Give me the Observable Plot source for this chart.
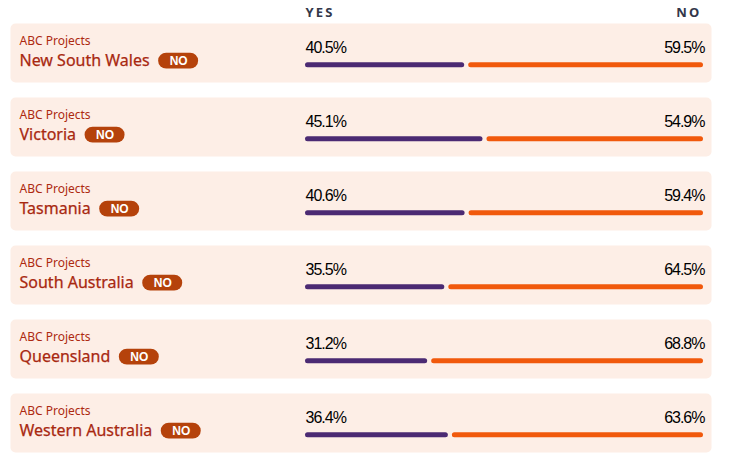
<!DOCTYPE html>
<html><head><meta charset="utf-8">
<script src="https://cdn.jsdelivr.net/npm/d3@7"></script>
<script src="https://cdn.jsdelivr.net/npm/@observablehq/plot@0.6"></script>
<style>
body{margin:0;background:#fff;}
#chart svg{display:block;}
g[aria-description="pct"] text{letter-spacing:-1px;}
g[aria-label="x-axis tick label"] text{letter-spacing:2.2px;}
</style></head><body><div id="chart"></div>
<script>
const states = ["New South Wales","Victoria","Tasmania","South Australia","Queensland","Western Australia"];
const yesPct = [40.5,45.1,40.6,35.5,31.2,36.4];
const noPct = [59.5,54.9,59.4,64.5,68.8,63.6];
const outcome = ["NO","NO","NO","NO","NO","NO"];
const source = "ABC Projects";
const sides = ["YES","NO"];

const NAME_FONT = "'Noto Sans', sans-serif";
const NAME_SIZE = 16;
const NAME_DX = -286;
const ctx = document.createElement("canvas").getContext("2d");
ctx.font = `${NAME_SIZE}px ${NAME_FONT}`;

const rows = states.map((s, i) => ({state: s, yes: yesPct[i], no: noPct[i], result: outcome[i], source}));
const segments = rows.flatMap(r => [
  {state: r.state, side: sides[0], x1: 0, x2: r.yes, value: r.yes},
  {state: r.state, side: sides[1], x1: r.yes, x2: r.yes + r.no, value: r.no}
]);
const yesSeg = segments.filter(d => d.side === sides[0]);
const noSeg = segments.filter(d => d.side === sides[1]);
const fmt = v => v.toFixed(1) + "%";

const badgeMarks = rows.flatMap((r, i) => {
  const w = ctx.measureText(r.state).width;
  const left = NAME_DX + w + 9;
  const seg = [yesSeg[i]];
  return [
    Plot.barX(seg, {fy: "state", x1: "x1", x2: "x1", insetLeft: left, insetRight: -(left + 40), insetTop: 28.8, insetBottom: 13.4, rx: 8, fill: "#b5420b"}),
    Plot.text(seg, {fy: "state", x: "x1", text: () => r.result, dx: left + 20, frameAnchor: "top", lineAnchor: "middle", dy: 36.8, fill: "#fff", fontWeight: "bold", fontSize: 12, fontFamily: "'Liberation Sans', Arial, sans-serif"})
  ];
});

const chart = Plot.plot({
  width: 734, height: 471,
  marginLeft: 305, marginRight: 31, marginTop: 23, marginBottom: 19,
  x: {domain: [0, 100], axis: null},
  fy: {domain: states, axis: null, paddingInner: 0.218, paddingOuter: 0},
  color: {domain: sides, range: ["#4b2a73", "#f1590c"]},
  style: {fontFamily: NAME_FONT, overflow: "visible"},
  marks: [
    Plot.frame({fill: "#fdeee6", stroke: null, rx: 5, insetLeft: -295, insetRight: -8, insetTop: -1}),
    Plot.axisX({anchor: "top", ticks: [0], tickFormat: () => sides[0], tickSize: 0, tickPadding: 8, textAnchor: "start", fontSize: 13, fontWeight: "bold", fill: "#33374a", label: null}),
    Plot.axisX({anchor: "top", ticks: [100], tickFormat: () => sides[1], tickSize: 0, tickPadding: 8, textAnchor: "end", dx: -2, fontSize: 13, fontWeight: "bold", fill: "#33374a", label: null}),
    Plot.barX(yesSeg, {fy: "state", x1: "x1", x2: "x2", fill: "side", insetRight: 2, insetTop: 38.2, insetBottom: 14.8, rx: 2.5}),
    Plot.barX(noSeg, {fy: "state", x1: "x1", x2: "x2", fill: "side", insetLeft: 2, insetTop: 38.2, insetBottom: 14.8, rx: 2.5}),
    Plot.text(yesSeg, {fy: "state", x: "x1", text: d => fmt(d.value), textAnchor: "start", frameAnchor: "top", lineAnchor: "middle", dy: 23, fontSize: 16, fill: "#000", fontFamily: "'Liberation Sans', Arial, sans-serif", ariaDescription: "pct"}),
    Plot.text(noSeg, {fy: "state", x: "x2", text: d => fmt(d.value), textAnchor: "end", frameAnchor: "top", lineAnchor: "middle", dy: 23, dx: 1, fontSize: 16, fill: "#000", fontFamily: "'Liberation Sans', Arial, sans-serif", ariaDescription: "pct"}),
    Plot.text(rows, {fy: "state", text: "source", frameAnchor: "top-left", lineAnchor: "middle", textAnchor: "start", dx: NAME_DX, dy: 16.8, fontSize: 12, fill: "#ad2a10"}),
    Plot.text(rows, {fy: "state", text: "state", frameAnchor: "top-left", lineAnchor: "middle", textAnchor: "start", dx: NAME_DX, dy: 36.5, fontSize: NAME_SIZE, fill: "#a82810", stroke: "#a82810", strokeWidth: 0.25}),
    ...badgeMarks
  ]
});
document.getElementById("chart").append(chart);
</script></body></html>
